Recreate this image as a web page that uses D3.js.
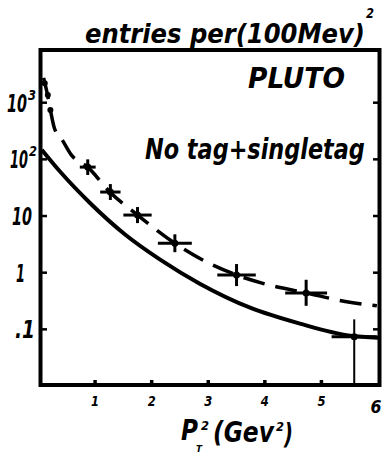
<!DOCTYPE html>
<html>
<head>
<meta charset="utf-8">
<script src="https://cdn.jsdelivr.net/npm/d3@7"></script>
<style>
  body { margin: 0; background: #fff; }
  svg { display: block; }
  text { font-family: "DejaVu Sans", sans-serif; font-weight: bold; font-style: italic; fill: #000; }
</style>
</head>
<body>
<svg id="chart" width="385" height="453"></svg>
<script>
// axis ticks
const xTicks = [1, 2, 3, 4, 5, 6];
const yTicks = [1000, 100, 10, 1, 0.1];
const yTickLabels = ['10', '10', '10', '1', '.1'];
const yTickSups = ['3', '2', '', '', ''];

// small-pT points (dots near the axis)
const dotX = [0.11, 0.165, 0.21];
const dotY = [2200, 1370, 745];

// measured points with error bars
const ptX = [0.87, 1.27, 1.75, 2.41, 3.50, 4.73, 5.58];
const ptY = [73, 26.5, 10.4, 3.3, 0.91, 0.44, 0.074];
const ptXErr = [0.14, 0.18, 0.25, 0.3, 0.34, 0.37, 0.4];
const ptYLo = [53, 19.2, 7.5, 2.3, 0.58, 0.26, 0.01];
const ptYHi = [100, 36.6, 14.4, 4.75, 1.42, 0.75, 0.15];

// dashed curve (through the data)
const fitX = [0.09, 0.16, 0.21, 0.28, 0.42, 0.58, 0.87, 1.27, 1.75, 2.41, 2.94, 3.50, 4.09, 4.73, 5.42, 5.98];
const fitY = [2750, 1370, 745, 357, 220, 120, 73, 26, 10.4, 3.3, 1.6, 0.91, 0.6, 0.44, 0.31, 0.26];

// solid curve
const calcX = [0.06, 0.38, 0.91, 1.53, 2.15, 2.85, 3.74, 4.62, 5.51, 6.0];
const calcY = [147, 61, 17, 4.72, 1.70, 0.64, 0.241, 0.126, 0.077, 0.071];

const svg = d3.select('#chart');

const x = d3.scaleLinear().domain([0, 6]).range([38.5, 378]);
const y = d3.scaleLog().domain([0.01, Math.pow(10, 3.93)]).range([386, 50]);

// squeeze a text to a given width (hand lettering is narrow)
function fitText(str, px, py, size, width, anchor) {
  const t = svg.append('text').attr('font-size', size).text(str);
  const w = t.node().getComputedTextLength();
  const s = width ? width / w : 1;
  const dx = anchor === 'end' ? -w * s : anchor === 'middle' ? -w * s / 2 : 0;
  t.attr('transform', `translate(${px + dx},${py}) scale(${s},1)`);
  return t;
}

// frame
svg.append('rect')
  .attr('x', 40.5).attr('y', 50)
  .attr('width', 339).attr('height', 335)
  .attr('fill', 'none').attr('stroke', '#000').attr('stroke-width', 4);

// inward ticks
svg.append('g').selectAll('line').data(yTicks).enter().append('line')
  .attr('x1', 42).attr('x2', 47)
  .attr('y1', d => y(d)).attr('y2', d => y(d))
  .attr('stroke', '#000').attr('stroke-width', 2.5);
svg.append('g').selectAll('line').data(yTicks).enter().append('line')
  .attr('x1', 373).attr('x2', 378)
  .attr('y1', d => y(d)).attr('y2', d => y(d))
  .attr('stroke', '#000').attr('stroke-width', 2.5);
svg.append('g').selectAll('line').data(xTicks.slice(0, 5)).enter().append('line')
  .attr('x1', d => x(d)).attr('x2', d => x(d))
  .attr('y1', 384).attr('y2', 380)
  .attr('stroke', '#000').attr('stroke-width', 3.5);

// y tick labels
const yLabelRight = [27, 28, 32, 25, 35];
const yLabelWidth = [20, 18, 20, 9, 20];
yTicks.forEach((v, i) => {
  fitText(yTickLabels[i], yLabelRight[i], y(v) + 9, 24, yLabelWidth[i], 'end');
  if (yTickSups[i]) fitText(yTickSups[i], yLabelRight[i] + 1, y(v) - 3, 14, 8);
});

// x tick labels
xTicks.forEach(v => {
  if (v === 6) fitText(String(v), 376, 413, 18, 11, 'middle');
  else fitText(String(v), x(v), 406, 14, 8, 'middle');
});

// titles
fitText('entries per(100Mev)', 85, 43, 27, 280);
fitText('2', 366, 18, 14, 8);
fitText('PLUTO', 248, 88, 28, 97);
fitText('No tag+singletag', 145, 159, 28, 220);

// x axis title
fitText('P', 181, 440, 28, 17);
fitText('2', 201, 430, 13, 8);
fitText('T', 196, 452, 8, 6);
fitText('(Gev', 213, 442, 28, 61);
fitText('2', 276, 431, 13, 8);
fitText(')', 284, 444, 28, 9);

// curves
const line = d3.line().x(d => x(d[0])).y(d => y(d[1])).curve(d3.curveMonotoneX);

svg.append('path')
  .datum(calcX.map((v, i) => [v, calcY[i]]))
  .attr('d', line)
  .attr('fill', 'none').attr('stroke', '#000').attr('stroke-width', 4);

svg.append('path')
  .datum(fitX.map((v, i) => [v, fitY[i]]))
  .attr('d', line)
  .attr('fill', 'none').attr('stroke', '#000').attr('stroke-width', 3.5)
  .attr('stroke-dasharray', '22 11');

// dots
svg.append('g').selectAll('circle').data(dotX).enter().append('circle')
  .attr('cx', d => x(d)).attr('cy', (d, i) => y(dotY[i])).attr('r', 3)
  .attr('fill', '#000');

// error bars
const pts = ptX.map((v, i) => ({ x: v, y: ptY[i], xe: ptXErr[i], lo: ptYLo[i], hi: ptYHi[i] }));
const pg = svg.append('g');
pg.selectAll('.h').data(pts).enter().append('line')
  .attr('x1', d => x(d.x - d.xe)).attr('x2', d => x(d.x + d.xe))
  .attr('y1', d => y(d.y)).attr('y2', d => y(d.y))
  .attr('stroke', '#000').attr('stroke-width', 3);
pg.selectAll('.v').data(pts).enter().append('line')
  .attr('x1', d => x(d.x)).attr('x2', d => x(d.x))
  .attr('y1', d => y(d.lo)).attr('y2', d => y(d.hi))
  .attr('stroke', '#000').attr('stroke-width', (d, i) => i === pts.length - 1 ? 2 : 3);
pg.selectAll('circle').data(pts).enter().append('circle')
  .attr('cx', d => x(d.x)).attr('cy', d => y(d.y)).attr('r', 3.5)
  .attr('fill', '#000');
</script>
</body>
</html>
